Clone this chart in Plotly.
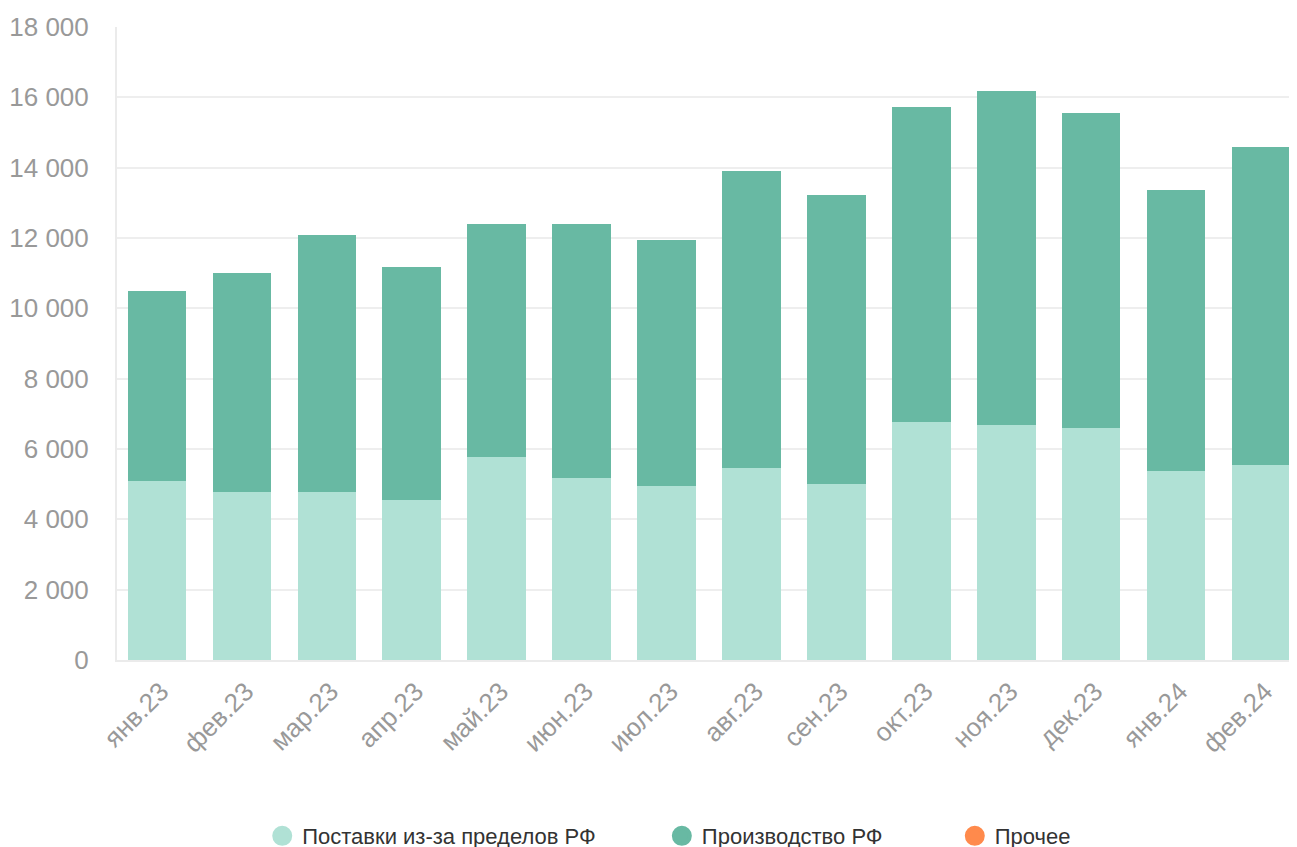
import plotly.graph_objects as go

months = ["янв.23", "фев.23", "мар.23", "апр.23", "май.23", "июн.23", "июл.23",
          "авг.23", "сен.23", "окт.23", "ноя.23", "дек.23", "янв.24", "фев.24"]
imports = [5090, 4780, 4780, 4550, 5770, 5175, 4950, 5460, 5000, 6770, 6680, 6600, 5375, 5545]
totals = [10490, 11000, 12085, 11175, 12400, 12400, 11945, 13905, 13220, 15725, 16180, 15555, 13365, 14585]
production = [t - i for t, i in zip(totals, imports)]
other = [0] * len(months)

names = ["Поставки из-за пределов РФ", "Производство РФ", "Прочее"]
colors = ["#B0E1D5", "#68B9A3", "#FF8A4C"]

x_idx = list(range(len(months)))

fig = go.Figure()
for vals, name, col in zip([imports, production, other], names, colors):
    fig.add_trace(go.Bar(x=x_idx, y=vals, name=name, marker=dict(color=col, line=dict(width=0)),
                         width=0.69, showlegend=False, hovertemplate="%{y}<extra>" + name + "</extra>"))
pads = ["\u00a0" * 10, "\u00a0" * 11, ""]
for name, col, pad in zip(names, colors, pads):
    fig.add_trace(go.Scatter(x=[None], y=[None], mode="markers", name=name + pad,
                             marker=dict(color=col, size=16, symbol="circle",
                                         line=dict(color=col, width=4))))

fig.update_layout(
    barmode="stack",
    width=1297, height=847,
    margin=dict(l=109, r=8, t=19, b=195, autoexpand=False),
    paper_bgcolor="white", plot_bgcolor="white",
    font=dict(family="Liberation Sans, Arial, sans-serif", color="#999999"),
    separators=", ",
    legend=dict(orientation="h", x=0.468, xanchor="center", yref="container", y=0.0224,
                yanchor="middle", traceorder="normal", font=dict(size=22, color="#333333"),
                itemclick=False),
    xaxis=dict(tickmode="array", tickvals=x_idx, ticktext=months, range=[-0.471, 13.424],
               tickangle=-45, tickfont=dict(size=26, color="#999999"), automargin=False,
               ticklabelstandoff=4, ticklabelshift=4,
               showline=True, linecolor="#EBEBEB", linewidth=2, showgrid=False, ticks=""),
    yaxis=dict(range=[0, 18000], dtick=2000, tickformat=",d", tickfont=dict(size=26, color="#999999"),
               gridcolor="#EEEEEE", gridwidth=2, showline=True, linecolor="#EBEBEB", linewidth=2,
               zeroline=False, ticklabelstandoff=21, automargin=False),
)

fig.write_html("out.html")
